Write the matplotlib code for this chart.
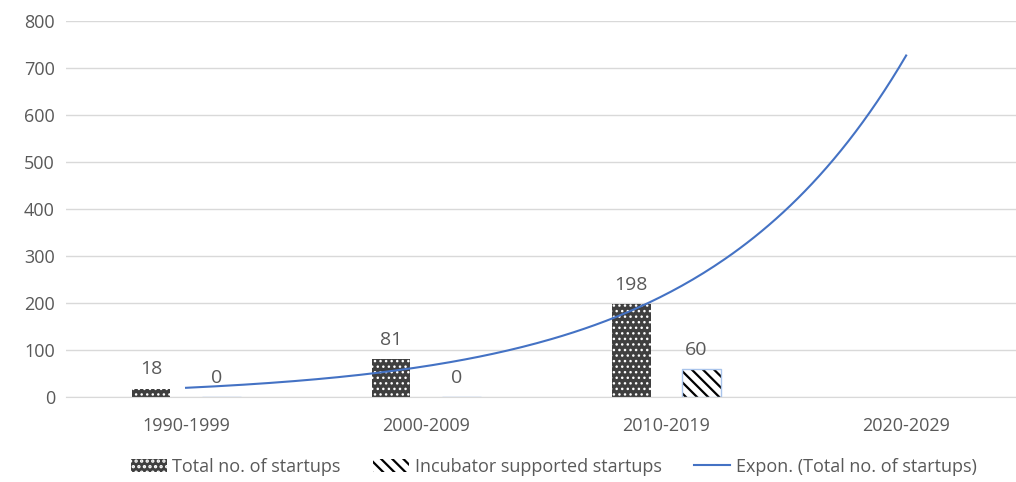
import numpy as np
import matplotlib.pyplot as plt
from matplotlib.patches import Patch
from matplotlib.lines import Line2D

# ---- Data ----
decades = ["1990-1999", "2000-2009", "2010-2019", "2020-2029"]
total_startups = [18, 81, 198]
incubator_startups = [0, 0, 60]

plt.rcParams['font.family'] = ['Open Sans', 'DejaVu Sans']
txt = '#595959'
dark = '#3f3f3f'
stripes = '\\' * 3

fig = plt.figure(figsize=(10.16, 4.82), dpi=100)
ax = fig.add_axes([0.065, 0.176, 0.945, 0.78])

x = np.arange(len(decades))
w = 0.162
off = 0.146

# total startups: dark bars with small white dots
plt.rcParams['hatch.linewidth'] = 1.0
xt = x[:len(total_startups)] - off
ax.bar(xt, total_startups, w, color=dark, edgecolor=dark, linewidth=0, zorder=2)
ax.bar(xt, total_startups, w, color='none', edgecolor='white', hatch='...', linewidth=0, zorder=3)
dot_handle = Patch(facecolor=dark, edgecolor='white', hatch='...', linewidth=0)

# incubator supported: white bars with black diagonal stripes
plt.rcParams['hatch.linewidth'] = 1.6
xi = x[:len(incubator_startups)] + off
ax.bar(xi, incubator_startups, w, color='white', edgecolor='black', hatch=stripes, linewidth=0, zorder=2)
ax.bar(xi, incubator_startups, w, color='none', edgecolor='#a9c4eb', linewidth=1, zorder=3)
stripe_handle = Patch(facecolor='white', edgecolor='black', hatch=stripes, linewidth=0)

for xx, v in zip(xt, total_startups):
    ax.text(xx, v + 22, str(v), ha='center', va='bottom', fontsize=14, color=txt)
for xx, v in zip(xi, incubator_startups):
    ax.text(xx - 0.02, v + 22, str(v), ha='center', va='bottom', fontsize=14, color=txt)

# exponential trendline fitted on category index 1..3, forecast to 4
k = np.arange(1, len(total_startups) + 1)
b, a = np.polyfit(k, np.log(total_startups), 1)
kk = np.linspace(1, 4, 200)
ax.plot(kk - 1, np.exp(a + b * kk), color='#4472C4', linewidth=1.5, zorder=4)

ax.set_xlim(-0.5, 3.5)
ax.set_ylim(0, 800)
ax.set_yticks(range(0, 801, 100))
ax.set_xticks(x)
ax.set_xticklabels(decades)
ax.tick_params(axis='both', length=0, labelsize=13, colors=txt)
ax.tick_params(axis='y', pad=8)
ax.tick_params(axis='x', pad=14)
ax.grid(axis='y', color='#d9d9d9', linewidth=1, zorder=0)
ax.set_axisbelow(True)
for s in ['top', 'right', 'left']:
    ax.spines[s].set_visible(False)
ax.spines['bottom'].set_color('#d9d9d9')

handles = [dot_handle, stripe_handle, Line2D([0], [0], color='#4472C4', linewidth=1.5)]
labels = ["Total no. of startups", "Incubator supported startups", "Expon. (Total no. of startups)"]
fig.legend(handles, labels, loc='center', bbox_to_anchor=(0.545, 0.032), ncol=3,
           frameon=False, fontsize=13, labelcolor=txt, columnspacing=1.8,
           handlelength=2.0, handletextpad=0.3)

fig.savefig('out.png', dpi=100)
